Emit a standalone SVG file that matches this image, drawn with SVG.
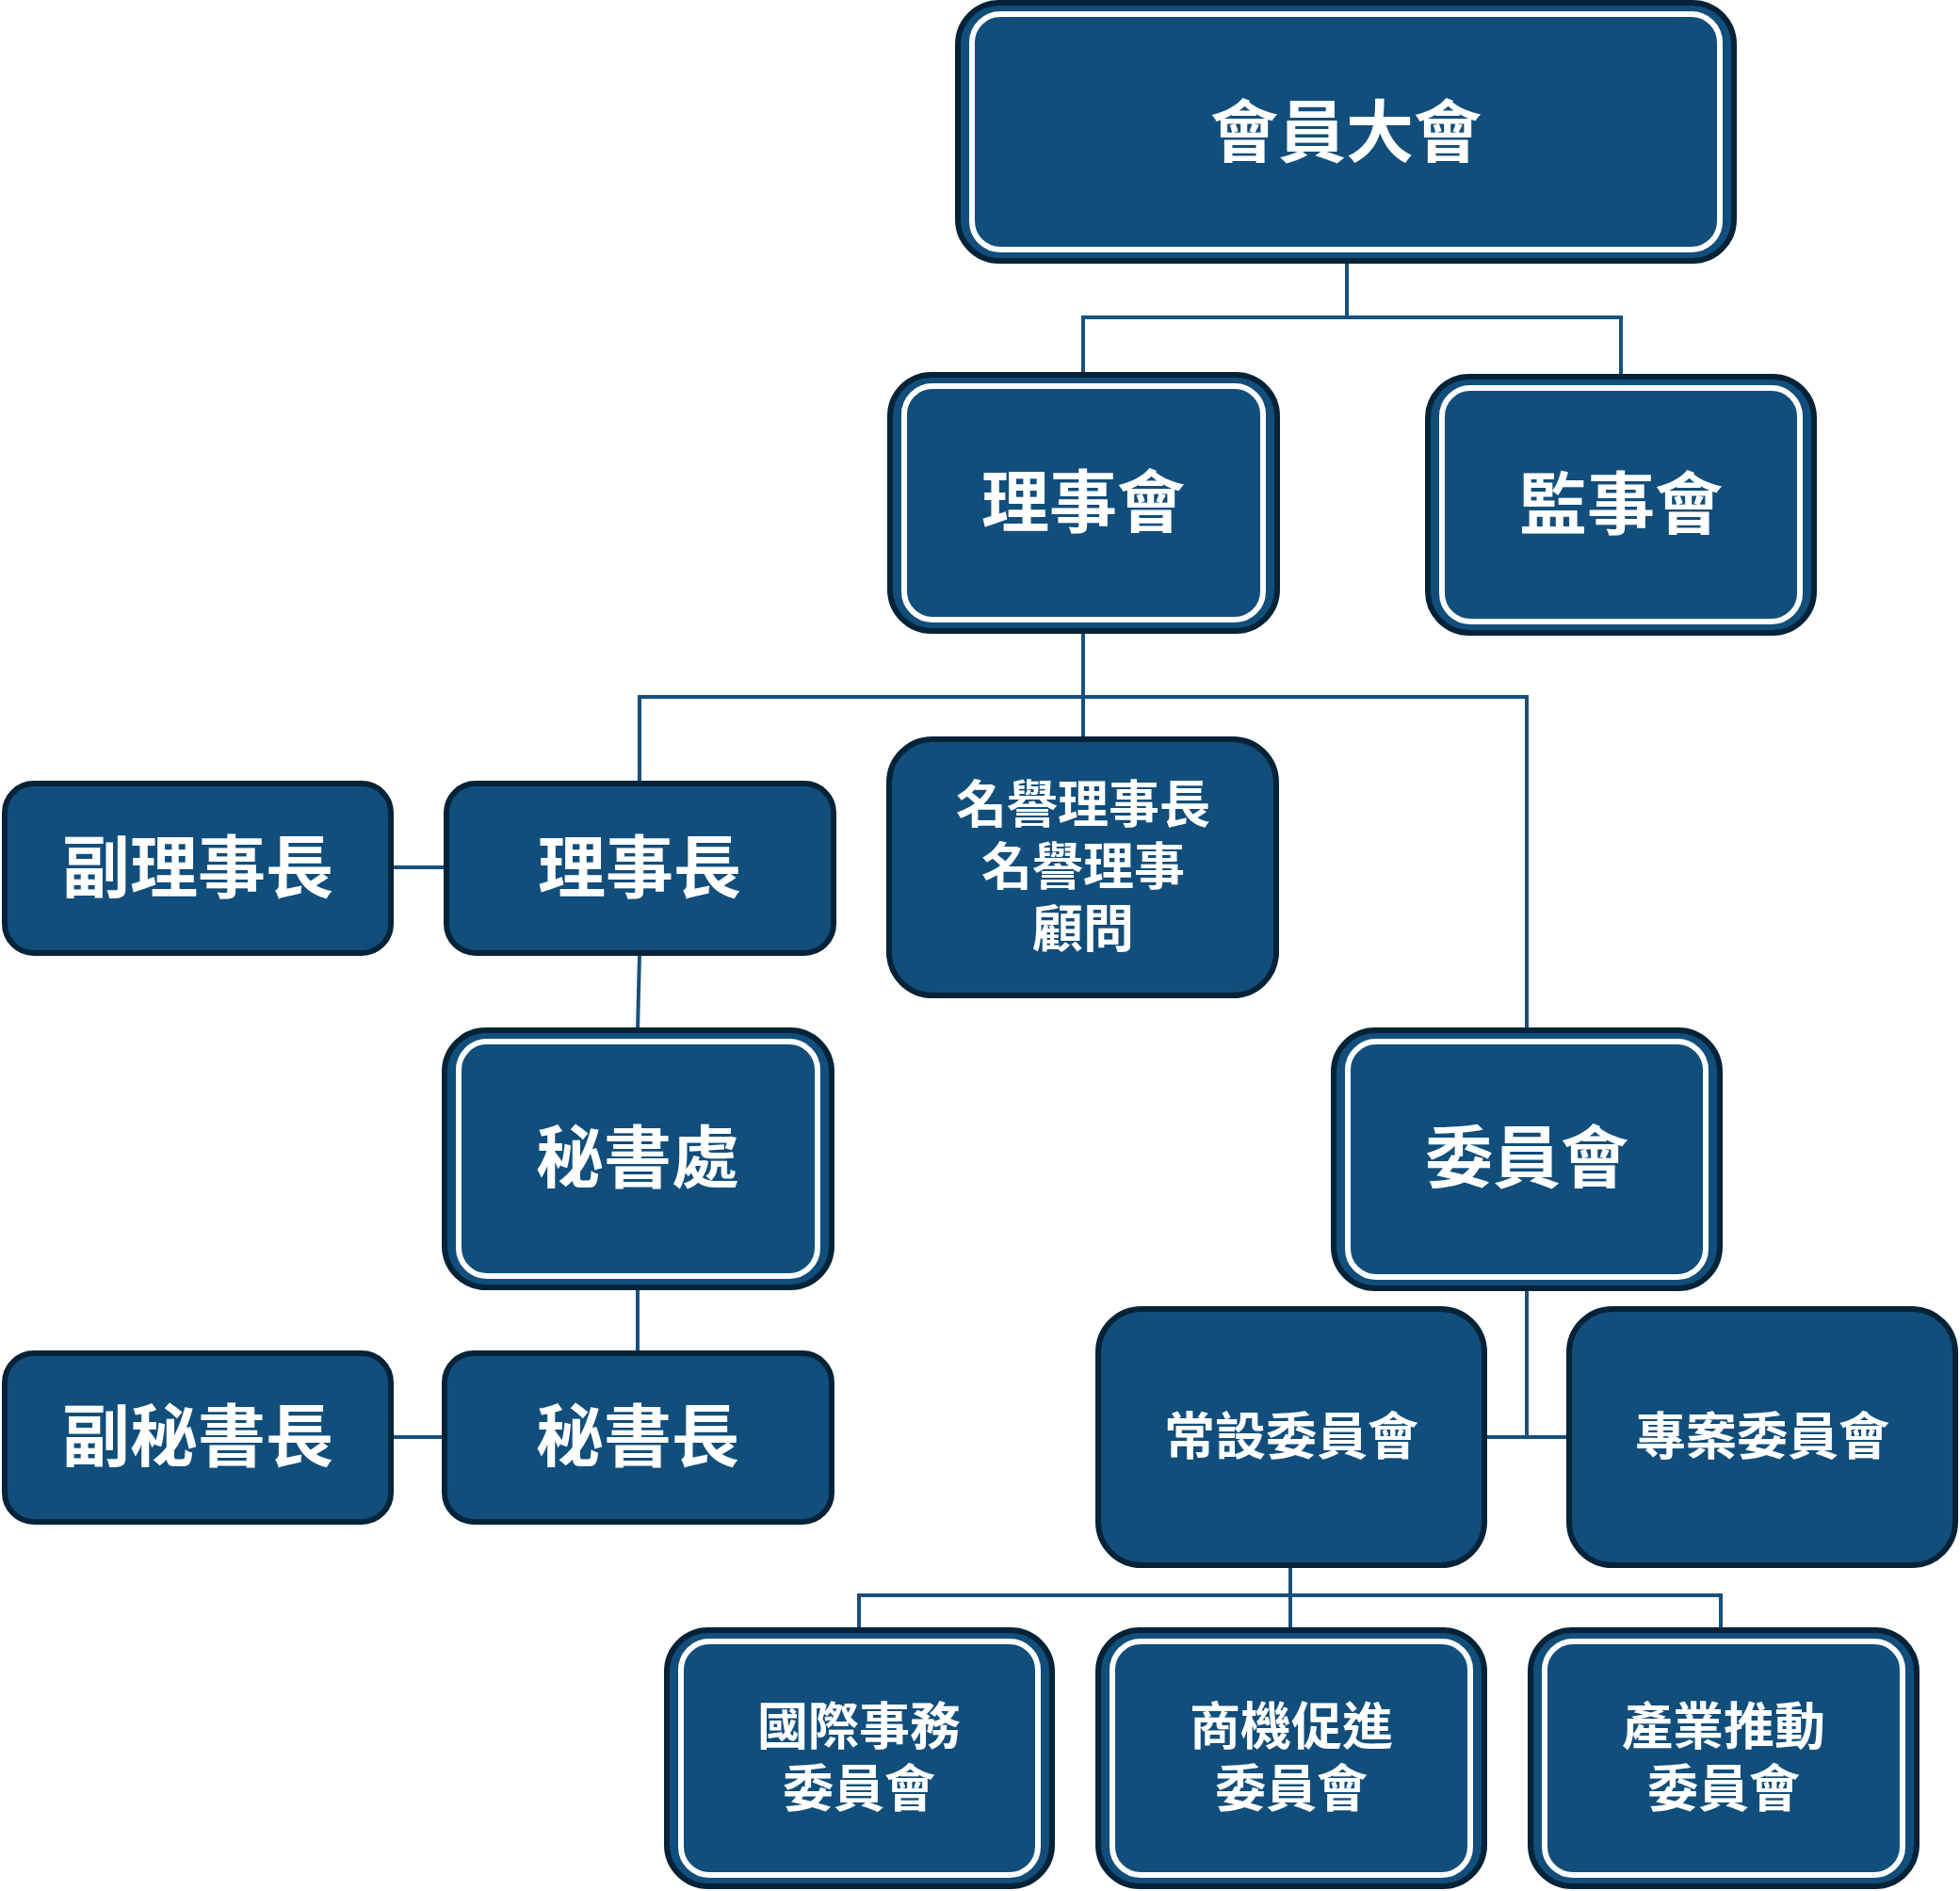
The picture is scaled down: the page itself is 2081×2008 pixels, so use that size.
<svg xmlns="http://www.w3.org/2000/svg" width="2081" height="2008" viewBox="0 0 2081 2008">
<style>
.box{fill:#114e7b;stroke:#052338;stroke-width:6}
.inner{fill:none;stroke:#ffffff;stroke-width:6}
.t{fill:#ffffff;font-family:"Noto Sans CJK TC","Noto Sans CJK SC",sans-serif;font-weight:700;text-anchor:middle;dominant-baseline:central}
.big{font-size:72px}
.small{font-size:54px}
.conn{fill:none;stroke:#17507d;stroke-width:4}
</style>
<rect width="2081" height="2008" fill="#ffffff"/>
<g id="connectors">
<polyline class="conn" points="1430,279 1430,337"/>
<polyline class="conn" points="1150,398 1150,337 1721,337 1721,400"/>
<polyline class="conn" points="1150,672 1150,785"/>
<polyline class="conn" points="679,832 679,740 1621,740 1621,1094"/>
<polyline class="conn" points="418,921 474,921"/>
<polyline class="conn" points="679,1014 677,1094"/>
<polyline class="conn" points="677,1369 677,1437"/>
<polyline class="conn" points="418,1526 472,1526"/>
<polyline class="conn" points="1621,1370 1621,1526"/>
<polyline class="conn" points="1578,1526 1666,1526"/>
<polyline class="conn" points="1370,1664 1370,1731"/>
<polyline class="conn" points="912,1731 912,1694 1827,1694 1827,1731"/>
</g>
<g id="n1">
<rect class="box" x="1017" y="3" width="824" height="274" rx="44"/>
<rect class="inner" x="1032" y="15" width="794" height="250" rx="30"/>
<text class="t big" x="1429" y="134">會員大會</text>
</g>
<g id="n2">
<rect class="box" x="945" y="398" width="411" height="272" rx="44"/>
<rect class="inner" x="960" y="410" width="381" height="248" rx="30"/>
<text class="t big" x="1150" y="527">理事會</text>
</g>
<g id="n3">
<rect class="box" x="1516" y="400" width="410" height="272" rx="44"/>
<rect class="inner" x="1531" y="412" width="380" height="248" rx="30"/>
<text class="t big" x="1721" y="529">監事會</text>
</g>
<g id="n4">
<rect class="box" x="5" y="832" width="410" height="180" rx="31"/>
<text class="t big" x="210" y="915">副理事長</text>
</g>
<g id="n5">
<rect class="box" x="474" y="832" width="411" height="180" rx="31"/>
<text class="t big" x="679" y="915">理事長</text>
</g>
<g id="n6">
<rect class="box" x="944" y="785" width="411" height="272" rx="46"/>
<text class="t small" x="1150" y="850">名譽理事長<tspan x="1150" dy="66">名譽理事</tspan><tspan x="1150" dy="66">顧問</tspan></text>
</g>
<g id="n7">
<rect class="box" x="472" y="1094" width="411" height="273" rx="44"/>
<rect class="inner" x="487" y="1106" width="381" height="249" rx="30"/>
<text class="t big" x="677" y="1223">秘書處</text>
</g>
<g id="n8">
<rect class="box" x="1416" y="1094" width="410" height="274" rx="44"/>
<rect class="inner" x="1431" y="1106" width="380" height="250" rx="30"/>
<text class="t big" x="1621" y="1223">委員會</text>
</g>
<g id="n9">
<rect class="box" x="5" y="1437" width="410" height="179" rx="31"/>
<text class="t big" x="210" y="1519">副秘書長</text>
</g>
<g id="n10">
<rect class="box" x="472" y="1437" width="411" height="179" rx="31"/>
<text class="t big" x="677" y="1519">秘書長</text>
</g>
<g id="n11">
<rect class="box" x="1166" y="1390" width="410" height="272" rx="46"/>
<text class="t small" x="1371" y="1521">常設委員會</text>
</g>
<g id="n12">
<rect class="box" x="1666" y="1390" width="410" height="272" rx="46"/>
<text class="t small" x="1871" y="1521">專案委員會</text>
</g>
<g id="n13">
<rect class="box" x="708" y="1731" width="409" height="272" rx="44"/>
<rect class="inner" x="723" y="1743" width="379" height="248" rx="30"/>
<text class="t small" x="912" y="1829">國際事務<tspan x="912" dy="66">委員會</tspan></text>
</g>
<g id="n14">
<rect class="box" x="1166" y="1731" width="410" height="272" rx="44"/>
<rect class="inner" x="1181" y="1743" width="380" height="248" rx="30"/>
<text class="t small" x="1371" y="1829">商機促進<tspan x="1371" dy="66">委員會</tspan></text>
</g>
<g id="n15">
<rect class="box" x="1625" y="1731" width="410" height="272" rx="44"/>
<rect class="inner" x="1640" y="1743" width="380" height="248" rx="30"/>
<text class="t small" x="1830" y="1829">產業推動<tspan x="1830" dy="66">委員會</tspan></text>
</g>
</svg>
